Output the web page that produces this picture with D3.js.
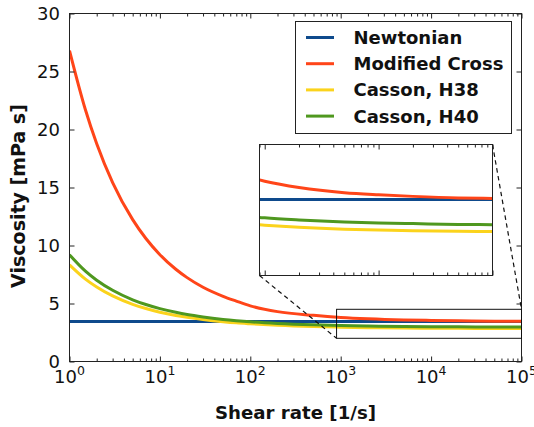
<!DOCTYPE html>
<html>
<head>
<meta charset="utf-8">
<script src="https://cdn.jsdelivr.net/npm/d3@7"></script>
<style>
    body { margin: 0; background: #fff; }
    svg { display: block; font-family: "DejaVu Sans", sans-serif; }
</style>
</head>
<body>
<script>
// values (viscosity in mPa s)
const shearRate = [1, 1.5, 2, 3, 5, 7, 10, 15, 20, 30, 50, 70, 100, 200, 500, 1000, 2000, 5000, 1e4, 2e4, 5e4, 1e5]
const newtonian = [3.45, 3.45, 3.45, 3.45, 3.45, 3.45, 3.45, 3.45, 3.45, 3.45, 3.45, 3.45, 3.45, 3.45, 3.45, 3.45, 3.45, 3.45, 3.45, 3.45, 3.45, 3.45]
const modifiedCross = [26.8, 21.7, 18.77, 15.42, 12.23, 10.6, 9.21, 7.95, 7.23, 6.40, 5.62, 5.21, 4.80, 4.30, 3.98, 3.80, 3.68, 3.58, 3.54, 3.51, 3.48, 3.47]
const cassonH38 = [8.33, 7.10, 6.42, 5.65, 4.93, 4.57, 4.25, 3.97, 3.81, 3.62, 3.43, 3.33, 3.25, 3.12, 3.01, 2.96, 2.92, 2.885, 2.87, 2.856, 2.845, 2.84]
const cassonH40 = [9.20, 7.79, 7.01, 6.14, 5.32, 4.91, 4.56, 4.24, 4.05, 3.84, 3.63, 3.52, 3.42, 3.28, 3.16, 3.10, 3.06, 3.02, 3.00, 2.99, 2.975, 2.97]

const seriesNames = ["Newtonian", "Modified Cross", "Casson, H38", "Casson, H40"]
const seriesColors = ["#0e4a8c", "#ff4519", "#fbd31c", "#4f981f"]

const xTicks = [1, 10, 100, 1000, 10000, 100000]
const xTickExp = ["0", "1", "2", "3", "4", "5"]
const yTicks = [0, 5, 10, 15, 20, 25, 30]

// zoomed window of the inset
const insetX = [900, 1e5]
const insetY = [2, 4.5]

const width = 534,
    height = 427

const series = seriesNames.map((name, i) => ({
    name: name,
    color: seriesColors[i],
    values: [newtonian, modifiedCross, cassonH38, cassonH40][i]
}))

const svg = d3.select("body").append("svg")
    .attr("width", width)
    .attr("height", height)

const x = d3.scaleLog().domain([1, 1e5]).range([69.5, 521.5])
const y = d3.scaleLinear().domain([0, 30]).range([361.5, 13.5])

const minorTicks = (scale) => scale.ticks().filter((d) => {
    const l = Math.log10(d)
    return Math.abs(l - Math.round(l)) > 1e-9
})

svg.append("clipPath").attr("id", "clip-main")
    .append("rect")
    .attr("x", 69.5).attr("y", 13.5)
    .attr("width", 452).attr("height", 348)

const makeLine = (xs, ys) => d3.line()
    .x((d, i) => xs(shearRate[i]))
    .y((d) => ys(d))
    .curve(d3.curveMonotoneX)

const mainLine = makeLine(x, y)

svg.append("g")
    .attr("clip-path", "url(#clip-main)")
    .selectAll("path")
    .data(series)
    .join("path")
    .attr("fill", "none")
    .attr("stroke", (d) => d.color)
    .attr("stroke-width", 3)
    .attr("d", (d) => mainLine(d.values))

// ticks, pointing inward on every side
function styleTicks(g) {
    g.select(".domain").remove()
    g.selectAll("line").attr("stroke", "#222").attr("stroke-width", 1)
}

svg.append("g").attr("transform", "translate(0,361.5)")
    .call(d3.axisBottom(x).tickValues(xTicks).tickSize(-5).tickFormat(""))
    .call(styleTicks)
svg.append("g").attr("transform", "translate(0,361.5)")
    .call(d3.axisBottom(x).tickValues(minorTicks(x)).tickSize(-3).tickFormat(""))
    .call(styleTicks)
svg.append("g").attr("transform", "translate(0,13.5)")
    .call(d3.axisTop(x).tickValues(xTicks).tickSize(-5).tickFormat(""))
    .call(styleTicks)
svg.append("g").attr("transform", "translate(0,13.5)")
    .call(d3.axisTop(x).tickValues(minorTicks(x)).tickSize(-3).tickFormat(""))
    .call(styleTicks)
svg.append("g").attr("transform", "translate(69.5,0)")
    .call(d3.axisLeft(y).tickValues(yTicks).tickSize(-5).tickFormat(""))
    .call(styleTicks)
svg.append("g").attr("transform", "translate(521.5,0)")
    .call(d3.axisRight(y).tickValues(yTicks).tickSize(-5).tickFormat(""))
    .call(styleTicks)

svg.append("rect")
    .attr("x", 69.5).attr("y", 13.5)
    .attr("width", 452).attr("height", 348)
    .attr("fill", "none")
    .attr("stroke", "#222")

// tick labels
svg.append("g")
    .selectAll("text")
    .data(yTicks)
    .join("text")
    .attr("x", 60)
    .attr("y", (d) => y(d))
    .attr("dy", "0.36em")
    .attr("text-anchor", "end")
    .attr("font-size", 18)
    .attr("fill", "#111")
    .text((d) => d)

const xLabels = svg.append("g")
    .selectAll("text")
    .data(xTicks)
    .join("text")
    .attr("x", (d) => x(d))
    .attr("y", 383)
    .attr("text-anchor", "middle")
    .attr("font-size", 18)
    .attr("fill", "#111")
xLabels.append("tspan").text("10")
xLabels.append("tspan")
    .attr("dy", -8)
    .attr("font-size", 12.5)
    .text((d, i) => xTickExp[i])

svg.append("text")
    .attr("x", 295.5)
    .attr("y", 419)
    .attr("text-anchor", "middle")
    .attr("font-size", 18)
    .attr("font-weight", "bold")
    .attr("fill", "#111")
    .attr("textLength", 161)
    .attr("lengthAdjust", "spacingAndGlyphs")
    .text("Shear rate [1/s]")

svg.append("text")
    .attr("transform", "translate(25,196) rotate(-90)")
    .attr("text-anchor", "middle")
    .attr("font-size", 19)
    .attr("font-weight", "bold")
    .attr("fill", "#111")
    .text("Viscosity [mPa s]")

// zoom box, connectors and inset
const xi = d3.scaleLog().domain(insetX).range([259.5, 492.5])
const yi = d3.scaleLinear().domain(insetY).range([275.5, 144.5])

svg.append("rect")
    .attr("x", x(insetX[0]))
    .attr("y", y(insetY[1]))
    .attr("width", x(insetX[1]) - x(insetX[0]))
    .attr("height", y(insetY[0]) - y(insetY[1]))
    .attr("fill", "none")
    .attr("stroke", "#111")

const connectors = [
    [[xi.range()[0], yi.range()[0]], [x(insetX[0]), y(insetY[0])]],
    [[xi.range()[1], yi.range()[1]], [x(insetX[1]), y(insetY[1])]]
]
svg.append("g")
    .selectAll("line")
    .data(connectors)
    .join("line")
    .attr("x1", (d) => d[0][0]).attr("y1", (d) => d[0][1])
    .attr("x2", (d) => d[1][0]).attr("y2", (d) => d[1][1])
    .attr("stroke", "#111")
    .attr("stroke-width", 1.2)
    .attr("stroke-dasharray", "4.5,3.5")

const inset = svg.append("g")

inset.append("rect")
    .attr("x", 259.5).attr("y", 144.5)
    .attr("width", 233).attr("height", 131)
    .attr("fill", "#fff")

inset.append("clipPath").attr("id", "clip-inset")
    .append("rect")
    .attr("x", 259.5).attr("y", 144.5)
    .attr("width", 233).attr("height", 131)

const insetLine = makeLine(xi, yi)

inset.append("g")
    .attr("clip-path", "url(#clip-inset)")
    .selectAll("path")
    .data(series)
    .join("path")
    .attr("fill", "none")
    .attr("stroke", (d) => d.color)
    .attr("stroke-width", 3)
    .attr("d", (d) => insetLine(d.values))

const insetMajor = [1000, 10000, 100000]
inset.append("g").attr("transform", "translate(0,275.5)")
    .call(d3.axisBottom(xi).tickValues(insetMajor).tickSize(-5).tickFormat(""))
    .call(styleTicks)
inset.append("g").attr("transform", "translate(0,275.5)")
    .call(d3.axisBottom(xi).tickValues(minorTicks(xi)).tickSize(-3).tickFormat(""))
    .call(styleTicks)
inset.append("g").attr("transform", "translate(0,144.5)")
    .call(d3.axisTop(xi).tickValues(insetMajor).tickSize(-5).tickFormat(""))
    .call(styleTicks)
inset.append("g").attr("transform", "translate(0,144.5)")
    .call(d3.axisTop(xi).tickValues(minorTicks(xi)).tickSize(-3).tickFormat(""))
    .call(styleTicks)

inset.append("rect")
    .attr("x", 259.5).attr("y", 144.5)
    .attr("width", 233).attr("height", 131)
    .attr("fill", "none")
    .attr("stroke", "#222")

// legend
const legend = svg.append("g")
legend.append("rect")
    .attr("x", 295.5).attr("y", 21.5)
    .attr("width", 216).attr("height", 112)
    .attr("fill", "#fff")
    .attr("stroke", "#222")

const legendItems = legend.selectAll("g")
    .data(series)
    .join("g")
    .attr("transform", (d, i) => `translate(0,${37.5 + i * 26.2})`)

legendItems.append("line")
    .attr("x1", 306).attr("x2", 334)
    .attr("stroke", (d) => d.color)
    .attr("stroke-width", 3)

legendItems.append("text")
    .attr("x", 353.5)
    .attr("dy", "0.36em")
    .attr("font-size", 18)
    .attr("font-weight", "bold")
    .attr("fill", "#111")
    .text((d) => d.name)
</script>
</body>
</html>
